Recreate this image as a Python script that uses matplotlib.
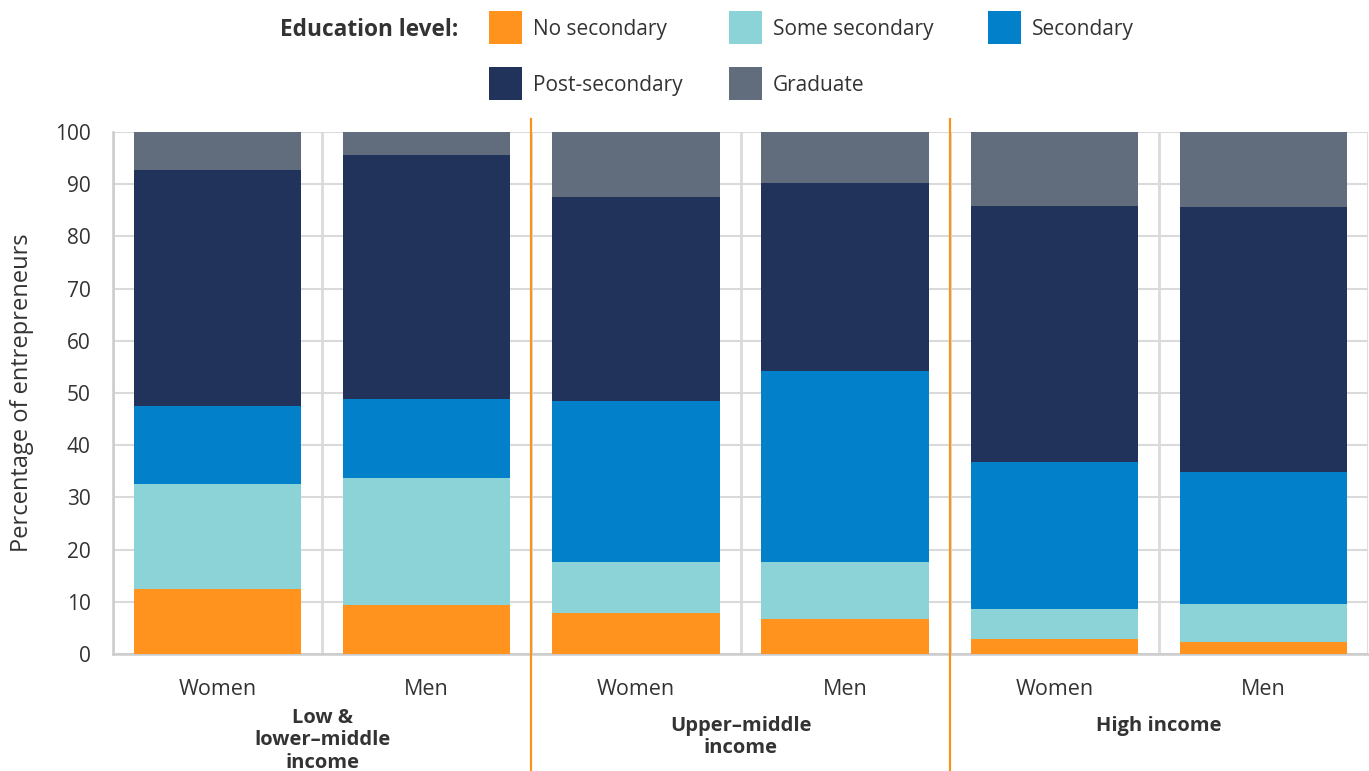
import numpy as np
import matplotlib
matplotlib.use('Agg')
import matplotlib.pyplot as plt
import matplotlib.transforms as mtransforms
from matplotlib.patches import Rectangle

# ── Data (percent of entrepreneurs, stacked bottom → top) ─────────────────────
groups = ['Low &\nlower–middle\nincome', 'Upper–middle\nincome', 'High income']
sexes = ['Women', 'Men']
levels = ['No secondary', 'Some secondary', 'Secondary', 'Post-secondary', 'Graduate']

no_secondary   = [12.4, 9.3, 7.8, 6.7, 2.9, 2.3]
some_secondary = [20.2, 24.4, 9.8, 10.9, 5.7, 7.3]
secondary      = [14.9, 15.2, 30.9, 36.6, 28.2, 25.3]
post_secondary = [45.2, 46.7, 39.0, 36.0, 49.0, 50.7]
graduate       = [7.3, 4.4, 12.5, 9.8, 14.2, 14.4]

colors = ['#FF931E', '#8BD3D6', '#0281CA', '#21325B', '#616C7C']
ORANGE = '#F7941D'
GRID = '#DADADA'
TXT = '#333333'

plt.rcParams['font.family'] = ['Open Sans', 'DejaVu Sans']

W, H = 1369, 771
fig = plt.figure(figsize=(W / 100, H / 100), dpi=100)
ax = fig.add_axes([113 / W, (H - 654) / H, (1368 - 113) / W, (654 - 132) / H])

x = np.arange(len(sexes) * len(groups))
series = [no_secondary, some_secondary, secondary, post_secondary, graduate]
bottom = np.zeros(len(x))
for vals, col, lbl in zip(series, colors, levels):
    ax.bar(x, vals, bottom=bottom, width=0.80, color=col, label=lbl, zorder=3)
    bottom += np.array(vals)

ax.set_xlim(-0.5, len(x) - 0.5)
ax.set_ylim(0, 100)
ax.set_yticks(np.arange(0, 101, 10))
ax.set_xticks(x)
ax.set_xticklabels(sexes * len(groups))
ax.tick_params(axis='both', length=0, colors=TXT)
ax.tick_params(axis='x', pad=18, labelsize=15.5)
ax.tick_params(axis='y', pad=16, labelsize=15)

# grid: horizontal every 10, vertical between bars
ax.set_axisbelow(True)
ax.grid(axis='y', color=GRID, lw=1.5, zorder=0)
for xv in np.arange(-0.5, len(x), 1.0):
    ax.axvline(xv, color=GRID, lw=2.0, zorder=0)
for s in ['top', 'right']:
    ax.spines[s].set_visible(False)
for s in ['left', 'bottom']:
    ax.spines[s].set_color('#CCCCCC')
    ax.spines[s].set_linewidth(1.8)

# orange separators between income groups
for g in range(1, len(groups)):
    ax.axvline(2 * g - 0.5, ymin=-0.225, ymax=1.025, color=ORANGE, lw=1.6,
               clip_on=False, zorder=5)

# group labels
trans = mtransforms.blended_transform_factory(ax.transData, ax.transAxes)
group_y = [-0.103, -0.118, -0.118]
for g, (name, gy) in enumerate(zip(groups, group_y)):
    ax.text(2 * g + 0.5, gy, name, transform=trans, ha='center', va='top',
            fontsize=14.5, fontweight='bold', color=TXT, linespacing=1.17)

ax.set_ylabel('Percentage of entrepreneurs', fontsize=17, color=TXT)
ax.yaxis.set_label_coords(-0.063, 0.5)

# legend (drawn in figure pixels)
leg_cols = [489, 729, 988]
leg_rows = [27, 83]
for i, (lbl, col) in enumerate(zip(levels, colors)):
    r, c = divmod(i, 3)
    px, py = leg_cols[c], leg_rows[r]
    fig.patches.append(Rectangle((px / W, 1 - (py + 16.5) / H), 33 / W, 33 / H,
                                 transform=fig.transFigure, facecolor=col,
                                 edgecolor='none'))
    fig.text((px + 44) / W, 1 - py / H, lbl, ha='left', va='center_baseline',
             fontsize=15, color=TXT)
fig.text(458 / W, 1 - 27 / H, 'Education level:', ha='right',
         va='center_baseline', fontsize=16.3, fontweight='bold', color=TXT)

fig.savefig('out.png', dpi=100)
